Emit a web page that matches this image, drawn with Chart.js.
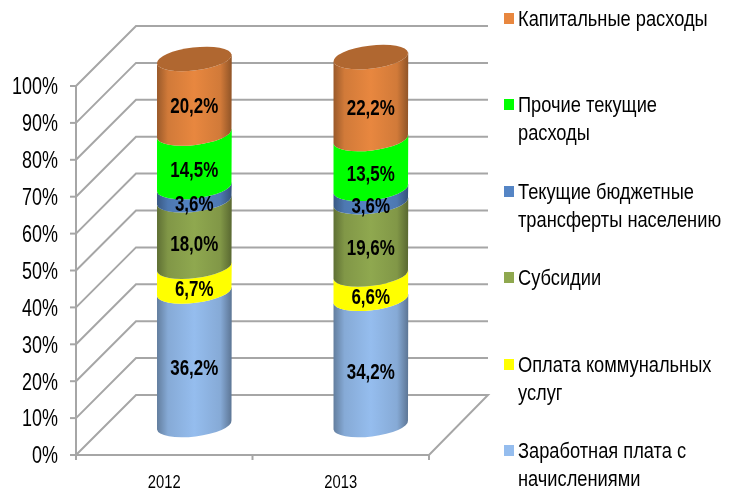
<!DOCTYPE html>
<html><head><meta charset="utf-8">
<script src="https://cdn.jsdelivr.net/npm/chart.js@4"></script>
<style>html,body{margin:0;padding:0;background:#fff}#w{position:relative;width:733px;height:493px}</style>
</head><body><div id="w"><canvas id="c" width="733" height="493"></canvas></div>
<script>
const categories=['2012','2013'];
const seriesNames=['Заработная плата с начислениями','Оплата коммунальных услуг','Субсидии','Текущие бюджетные трансферты населению','Прочие текущие расходы','Капитальные расходы'];
const wages=[36.2,34.2];
const utilities=[6.7,6.6];
const subsidies=[18.0,19.6];
const transfers=[3.6,3.6];
const otherCurrent=[14.5,13.5];
const capital=[20.2,22.2];
const colors=['#95BDEE','#FFFF00','#8FA84F','#5585C5','#00FF00','#E8873F'];
const legendLines=[['Капитальные расходы'],['Прочие текущие','расходы'],['Текущие бюджетные','трансферты населению'],['Субсидии'],['Оплата коммунальных','услуг'],['Заработная плата с','начислениями']];
const legendColors=[colors[5],colors[4],colors[3],colors[2],colors[1],colors[0]];
const legendY=[18,104,191,277,364,450];
const F='"Liberation Sans",sans-serif';
function shade(hex,f){const n=parseInt(hex.slice(1),16);const c=[n>>16,(n>>8)&255,n&255].map(v=>Math.round(v*f));return `rgb(${c})`;}
function narrow(ctx,text,x,y,font,sx,align){
  ctx.save();ctx.font=font;ctx.textAlign=align;ctx.textBaseline='middle';ctx.fillStyle='#000';
  ctx.translate(x,y);ctx.scale(sx,1);ctx.fillText(text,0,0);ctx.restore();
}
const DX=30,DY=-30,TILT=-0.12,RY=11.5;
const scene={id:'scene',
 beforeDatasetsDraw(ch){
  const {ctx,chartArea:a,scales:{x,y}}=ch;
  ctx.save();ctx.strokeStyle='#A6A6A6';ctx.lineWidth=2;ctx.lineJoin='miter';
  y.ticks.forEach(t=>{const p=y.getPixelForValue(t.value);
    ctx.beginPath();ctx.moveTo(a.left,p);ctx.lineTo(a.left+60,p-60);ctx.lineTo(a.right+59,p-60);
    if(t.value===0){ctx.lineTo(a.right,p);ctx.lineTo(a.left,p);}
    ctx.stroke();
    ctx.beginPath();ctx.moveTo(a.left-6,p);ctx.lineTo(a.left,p);ctx.stroke();
    narrow(ctx,t.label,58,p+2,'23px '+F,.78,'right');});
  ctx.beginPath();ctx.moveTo(a.left,a.top);ctx.lineTo(a.left,a.bottom+5);ctx.stroke();
  [a.left+176.5,a.right].forEach(px=>{ctx.beginPath();ctx.moveTo(px,a.bottom);ctx.lineTo(px,a.bottom+5);ctx.stroke();});
  ctx.restore();
  x.ticks.forEach((t,i)=>narrow(ctx,t.label,x.getPixelForTick(i),483,'18px '+F,.82,'center'));
  const n=ch.data.datasets.length;
  for(let c=0;c<categories.length;c++){
    for(let i=0;i<n;i++){
      const el=ch.getDatasetMeta(i).data[c];
      const w=el.width/2,cx=el.x+DX,top=el.y+DY,bot=el.base+DY,col=ch.data.datasets[i].backgroundColor;
      const g=ctx.createLinearGradient(cx-w,0,cx+w,0);
      g.addColorStop(0,shade(col,.66));g.addColorStop(.15,shade(col,.9));g.addColorStop(.5,shade(col,1));g.addColorStop(.85,shade(col,.9));g.addColorStop(1,shade(col,.62));
      const dyEdge=Math.sin(TILT)*w;
      ctx.beginPath();
      ctx.ellipse(cx,bot,w,RY,TILT,Math.PI,0,true);
      ctx.lineTo(cx+w,top+dyEdge);
      ctx.ellipse(cx,top,w,RY,TILT,0,Math.PI,false);
      ctx.closePath();ctx.fillStyle=(col==='#FFFF00'||col==='#00FF00')?col:g;ctx.fill();
      if(i===n-1){ctx.beginPath();ctx.ellipse(cx,top,w,RY,TILT,0,Math.PI*2);ctx.fillStyle=shade(col,.76);ctx.fill();}
    }
  }
  for(let c=0;c<categories.length;c++)for(let i=0;i<n;i++){
    const el=ch.getDatasetMeta(i).data[c],v=ch.data.datasets[i].data[c];
    narrow(ctx,v.toFixed(1).replace('.',',')+'%',el.x+DX,(el.y+el.base)/2+DY+11,'bold 22px '+F,.77,'center');
  }
  legendLines.forEach((ls,i)=>{ctx.fillStyle=legendColors[i];ctx.fillRect(504,legendY[i]-5,10,11);
    ls.forEach((s,k)=>narrow(ctx,s,518,legendY[i]+2+k*28,'22px '+F,.83,'left'));});
  return false;
 }};
const series=[wages,utilities,subsidies,transfers,otherCurrent,capital];
new Chart(document.getElementById('c'),{type:'bar',
 data:{labels:categories,datasets:series.map((d,i)=>({label:seriesNames[i],data:d,backgroundColor:colors[i],barPercentage:.425,categoryPercentage:1}))},
 plugins:[scene],
 options:{responsive:false,animation:false,
  layout:{padding:{left:0,right:304,top:86,bottom:0}},
  plugins:{legend:{display:false},tooltip:{enabled:false}},
  scales:{
   x:{stacked:true,afterFit(s){s.height=38},grid:{display:false},border:{display:false},ticks:{display:false}},
   y:{stacked:true,min:0,max:100,afterFit(s){s.width=76},grid:{display:false},border:{display:false},
      ticks:{display:false,stepSize:10,callback:v=>v+'%'}}
  }}});
</script></body></html>
